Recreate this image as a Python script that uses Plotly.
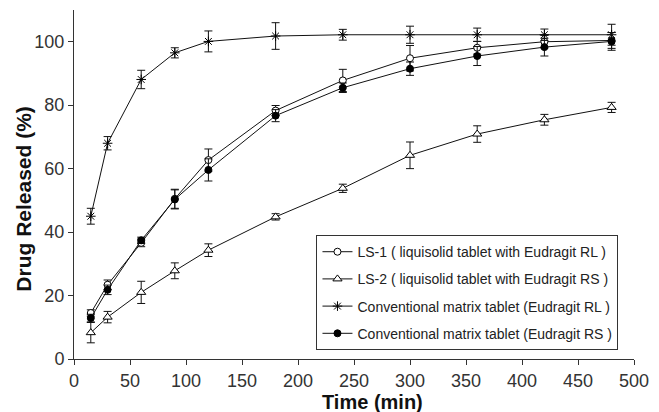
import plotly.graph_objects as go

time_min = [15, 30, 60, 90, 120, 180, 240, 300, 360, 420, 480]

ls1 = [14.5, 23.4, 36.6, 50.5, 62.7, 78.3, 87.8, 94.8, 98.1, 100.0, 100.4]
ls1_err = [1.0, 1.5, 1.2, 3.0, 3.5, 1.6, 3.5, 4.0, 2.0, 2.0, 2.5]

ls2 = [8.3, 13.2, 21.0, 27.8, 34.3, 44.8, 53.8, 64.2, 70.9, 75.4, 79.3]
ls2_err = [3.2, 1.8, 3.5, 2.5, 2.0, 1.0, 1.3, 4.2, 2.6, 1.7, 1.6]

crl = [45.0, 68.0, 88.1, 96.5, 100.1, 101.8, 102.2, 102.2, 102.2, 102.2, 102.2]
crl_err = [2.5, 2.1, 2.9, 1.6, 3.3, 4.2, 1.7, 2.7, 2.1, 1.8, 3.3]

crs = [12.9, 21.8, 37.4, 50.3, 59.6, 76.7, 85.5, 91.5, 95.5, 98.3, 100.1]
crs_err = [1.2, 1.5, 1.0, 3.0, 3.5, 1.9, 1.5, 2.1, 3.0, 2.8, 2.8]

names = [
    "LS-1 ( liquisolid tablet with Eudragit RL )",
    "LS-2 ( liquisolid tablet with Eudragit RS )",
    "Conventional matrix tablet (Eudragit RL )",
    "Conventional matrix tablet (Eudragit RS )",
]

x_title = "Time (min)"
y_title = "Drug Released (%)"

series = [
    (ls1, ls1_err, dict(symbol="circle", color="white", size=7, line=dict(color="black", width=1))),
    (ls2, ls2_err, dict(symbol="triangle-up", color="white", size=8, line=dict(color="black", width=1))),
    (crl, crl_err, dict(symbol="asterisk-open", color="black", size=8, line=dict(color="black", width=1))),
    (crs, crs_err, dict(symbol="circle", color="black", size=7, line=dict(color="black", width=1))),
]

fig = go.Figure()
for i, (vals, errs, mk) in enumerate(series):
    fig.add_trace(go.Scatter(
        x=time_min, y=vals, name=names[i], mode="lines+markers",
        legendgroup=f"g{i}",
        line=dict(color="#111111", width=1),
        marker=mk,
        error_y=dict(type="data", array=errs, visible=True, color="#111111", thickness=1, width=4),
    ))

fig.add_annotation(text=f"<b>{x_title}</b>", xref="paper", yref="paper",
                   x=0.5336, y=-0.123, xanchor="center", yanchor="middle", showarrow=False,
                   font=dict(size=20, color="#111111"))
fig.add_annotation(text=f"<b>{y_title}</b>", xref="paper", yref="paper", textangle=-90,
                   x=-0.0901, y=0.458, xanchor="center", yanchor="middle", showarrow=False,
                   font=dict(size=21, color="#111111"))

fig.update_layout(
    width=659, height=412,
    margin=dict(l=74, r=19, t=10, b=53),
    paper_bgcolor="white", plot_bgcolor="white",
    font=dict(family="Liberation Sans, Arial, sans-serif", color="#222222"),
    showlegend=True,
    legend=dict(
        x=0.433, y=0.355, xanchor="left", yanchor="top",
        bordercolor="#333333", borderwidth=1, bgcolor="white",
        font=dict(size=14, color="#222222"),
        tracegroupgap=6, traceorder="grouped",
    ),
    xaxis=dict(
        range=[0, 500], tickmode="array", tickvals=list(range(0, 501, 50)),
        showgrid=False, zeroline=False, showline=True, linecolor="#333333", linewidth=1,
        ticks="outside", ticklen=5, tickcolor="#333333",
        tickfont=dict(size=18, color="#333333"),
    ),
    yaxis=dict(
        range=[0, 110], tickmode="array", tickvals=list(range(0, 101, 20)),
        showgrid=False, zeroline=False, showline=True, linecolor="#333333", linewidth=1,
        ticks="outside", ticklen=5, tickcolor="#333333",
        tickfont=dict(size=18, color="#333333"),
    ),
)

fig.write_html("out.html")
